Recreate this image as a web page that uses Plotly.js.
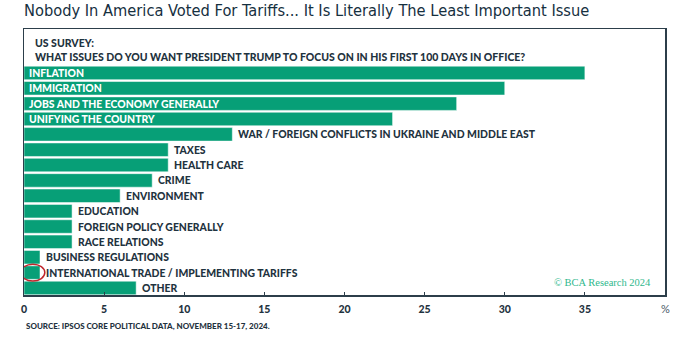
<!DOCTYPE html>
<html>
<head>
<meta charset="utf-8">
<script src="https://cdn.plot.ly/plotly-3.0.1.min.js"></script>
<style>html,body{margin:0;padding:0;background:#fff;}#chart{width:682px;height:346px;}</style>
</head>
<body>
<div id="chart"></div>
<script>
const categories = [
  "INFLATION",
  "IMMIGRATION",
  "JOBS AND THE ECONOMY GENERALLY",
  "UNIFYING THE COUNTRY",
  "WAR / FOREIGN CONFLICTS IN UKRAINE AND MIDDLE EAST",
  "TAXES",
  "HEALTH CARE",
  "CRIME",
  "ENVIRONMENT",
  "EDUCATION",
  "FOREIGN POLICY GENERALLY",
  "RACE RELATIONS",
  "BUSINESS REGULATIONS",
  "INTERNATIONAL TRADE / IMPLEMENTING TARIFFS",
  "OTHER"
];
const values = [35, 30, 27, 23, 13, 9, 9, 8, 6, 3, 3, 3, 1, 1, 7];
const insideLabel = [true, true, true, true, false, false, false, false, false, false, false, false, false, false, false];
const tickVals = [0, 5, 10, 15, 20, 25, 30, 35];
const tickText = ["0", "5", "10", "15", "20", "25", "30", "35"];
const highlighted = "INTERNATIONAL TRADE / IMPLEMENTING TARIFFS";

const dark = "#1f3340";
const green = "#079f77";
const labFont = {family: "Lato, 'Open Sans', sans-serif", size: 10.4, color: dark, weight: 900};

const annotations = [];
categories.forEach((c, i) => {
  if (insideLabel[i]) {
    annotations.push({x: 0, y: c, xref: "x", yref: "y", text: c, showarrow: false,
      xanchor: "left", yanchor: "middle", xshift: 3,
      font: Object.assign({}, labFont, {color: "#ffffff"})});
  } else {
    annotations.push({x: values[i], y: c, xref: "x", yref: "y", text: c, showarrow: false,
      xanchor: "left", yanchor: "middle", xshift: 4, font: labFont});
  }
});
annotations.push({x: 0, y: 1, xref: "paper", yref: "paper", xanchor: "left", yanchor: "top",
  xshift: 9, yshift: -6, align: "left", showarrow: false,
  text: "US SURVEY:<br>WHAT ISSUES DO YOU WANT PRESIDENT TRUMP TO FOCUS ON IN HIS FIRST 100 DAYS IN OFFICE?",
  font: {family: "Lato, sans-serif", size: 10.5, color: dark, weight: 900}});
annotations.push({x: 40, y: 0, xref: "x", yref: "paper", xanchor: "center", yanchor: "top",
  yshift: -5, showarrow: false, text: "%", font: {family: "Lato, sans-serif", size: 11, color: "#4a5a66"}});
annotations.push({x: 0, y: 0, xref: "paper", yref: "paper", xanchor: "left", yanchor: "top",
  yshift: -24, showarrow: false,
  text: "SOURCE: IPSOS CORE POLITICAL DATA, NOVEMBER 15-17, 2024.",
  font: {family: "Lato, sans-serif", size: 8, color: dark, weight: 900}});
annotations.push({x: 1, y: 0, xref: "paper", yref: "paper", xanchor: "right", yanchor: "bottom",
  xshift: -12, yshift: 5, showarrow: false,
  text: "© BCA Research 2024",
  font: {family: "'Liberation Serif', serif", size: 10.5, color: "#2fb88c"}});

const hiIdx = categories.indexOf(highlighted);

const layout = {
  width: 682, height: 346,
  margin: {l: 24, r: 17, t: 29, b: 51},
  paper_bgcolor: "#ffffff", plot_bgcolor: "#ffffff",
  showlegend: false,
  bargap: 0.12,
  title: {text: "Nobody In America Voted For Tariffs... It Is Literally The Least Important Issue",
    x: 0, xref: "paper", xanchor: "left", y: 1, yref: "container", yanchor: "top", pad: {t: 5},
    font: {family: "'Liberation Sans Narrow', 'DejaVu Sans Condensed', Roboto, sans-serif", size: 16.3, color: "#16303f", weight: 400}},
  xaxis: {range: [0, 40], tickvals: tickVals, ticktext: tickText, showgrid: false, zeroline: false,
    showline: true, mirror: true, linecolor: "#2c3e4a", linewidth: 1.5,
    ticks: "inside", ticklen: 3, tickcolor: "#2c3e4a", ticklabelstandoff: 4,
    tickfont: {family: "Lato, sans-serif", size: 10.5, color: dark, weight: 900}},
  yaxis: {type: "category", range: [14.46, -2.86], showticklabels: false, showgrid: false,
    zeroline: false, showline: true, mirror: true, linecolor: "#2c3e4a", linewidth: 1.5, ticks: ""},
  annotations: annotations,
  shapes: [{type: "circle", xref: "x", yref: "y", x0: -0.2, x1: 1.3, y0: hiIdx - 0.55, y1: hiIdx + 0.55,
    line: {color: "#c0272d", width: 1.5}, fillcolor: "rgba(0,0,0,0)"}]
};

Plotly.newPlot("chart", [{
  type: "bar", orientation: "h", y: categories, x: values,
  marker: {color: green, line: {color: "rgba(255,255,255,0.5)", width: 1}},
  hoverinfo: "none"
}], layout, {staticPlot: true, displayModeBar: false});
</script>
</body>
</html>
